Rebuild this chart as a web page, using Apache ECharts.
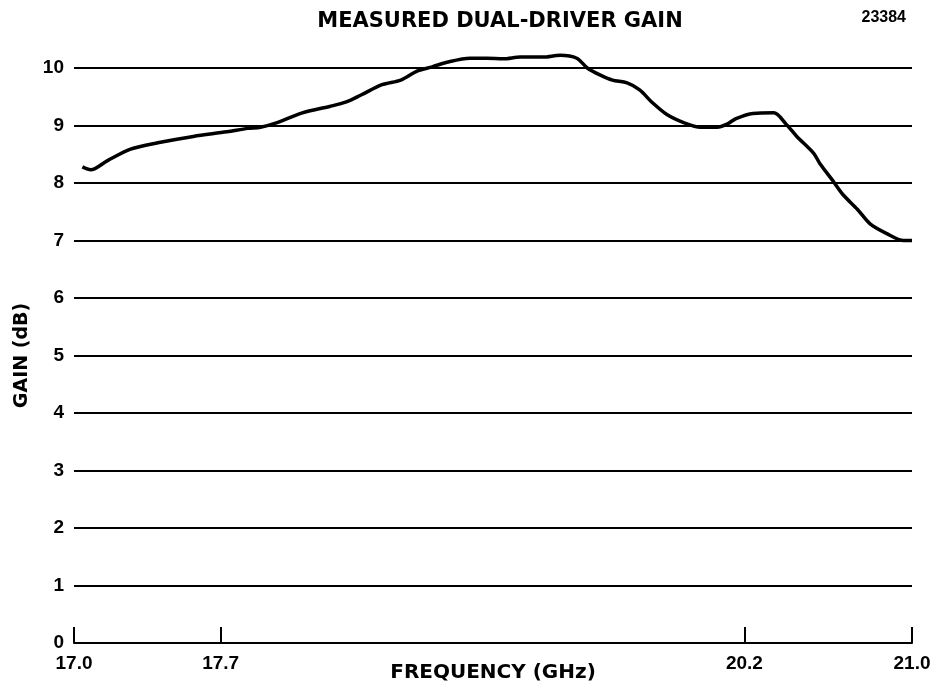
<!DOCTYPE html>
<html>
<head>
<meta charset="utf-8">
<script src="https://cdn.jsdelivr.net/npm/echarts@6/dist/echarts.min.js"></script>
<style>
html,body{margin:0;padding:0;background:#fff;}
#chart{width:930px;height:685px;}
</style>
</head>
<body>
<div id="chart"></div>
<script>
// Data (frequency in GHz, gain in dB)
const freqGHz = [17.04, 17.08, 17.16, 17.27, 17.40, 17.57, 17.73, 17.83, 17.89, 17.97,
  18.09, 18.22, 18.30, 18.37, 18.47, 18.56, 18.64, 18.71, 18.78, 18.89,
  18.97, 19.05, 19.13, 19.24, 19.32, 19.40, 19.45, 19.51, 19.57, 19.64,
  19.70, 19.76, 19.83, 19.91, 19.99, 20.07, 20.12, 20.16, 20.24, 20.34,
  20.40, 20.45, 20.53, 20.56, 20.62, 20.67, 20.74, 20.80, 20.88, 20.96, 21.0];
const gainDB = [8.28, 8.23, 8.39, 8.59, 8.70, 8.81, 8.89, 8.95, 8.97, 9.05,
  9.22, 9.33, 9.41, 9.53, 9.71, 9.79, 9.95, 10.02, 10.10, 10.17,
  10.17, 10.16, 10.19, 10.19, 10.22, 10.17, 10.00, 9.88, 9.79, 9.74,
  9.62, 9.40, 9.19, 9.05, 8.97, 8.97, 9.03, 9.12, 9.21, 9.22,
  9.02, 8.81, 8.52, 8.34, 8.05, 7.80, 7.54, 7.29, 7.12, 7.00, 7.00];
const xTicks = [17.0, 17.7, 20.2, 21.0];
const titleText = 'MEASURED DUAL-DRIVER GAIN';
const figNumber = '23384';
const xName = 'FREQUENCY (GHz)';
const yName = 'GAIN (dB)';

const seriesData = freqGHz.map((f, i) => [f, gainDB[i]]);

const chart = echarts.init(document.getElementById('chart'), null, {renderer: 'canvas'});
const numFont = {fontFamily: '"Liberation Sans", Arial, sans-serif', fontWeight: 'bold', fontSize: 19, color: '#000'};
const nameFont = {fontFamily: '"DejaVu Sans", sans-serif', fontWeight: 'bold', color: '#000'};

chart.setOption({
  backgroundColor: '#fff',
  animation: false,
  grid: {left: 74, right: 18, top: 68, bottom: 42, containLabel: false, outerBoundsMode: 'none'},
  graphic: [
    {type: 'text', x: 500, y: 11, style: {text: titleText, fontFamily: '"DejaVu Sans", sans-serif', fontWeight: 'bold', fontSize: 21, fill: '#000', align: 'center', verticalAlign: 'top'}},
    {type: 'text', x: 906, y: 10, style: {text: figNumber, fontFamily: '"Liberation Sans", Arial, sans-serif', fontWeight: 'bold', fontSize: 16, fill: '#000', align: 'right', verticalAlign: 'top'}}
  ],
  xAxis: {
    type: 'value', min: 17, max: 21,
    name: xName, nameLocation: 'middle', nameGap: 20, nameMoveOverlap: false,
    nameTextStyle: Object.assign({fontSize: 20, verticalAlign: 'top'}, nameFont),
    axisLine: {show: true, lineStyle: {color: '#000', width: 2}},
    axisTick: {show: true, inside: true, length: 16, customValues: xTicks, lineStyle: {color: '#000', width: 2}},
    axisLabel: Object.assign({show: true, customValues: xTicks, margin: 11, formatter: v => v.toFixed(1)}, numFont),
    splitLine: {show: false}
  },
  yAxis: {
    type: 'value', min: 0, max: 10, interval: 1,
    name: yName, nameLocation: 'middle', nameGap: 42, nameRotate: 90, nameMoveOverlap: false,
    nameTextStyle: Object.assign({fontSize: 19}, nameFont),
    axisLine: {show: false},
    axisTick: {show: false},
    axisLabel: Object.assign({margin: 10}, numFont),
    splitLine: {show: true, lineStyle: {color: '#000', width: 2}}
  },
  series: [{
    type: 'line', data: seriesData, showSymbol: false, smooth: 0.3, clip: false,
    lineStyle: {color: '#000', width: 3.5}
  }]
});
</script>
</body>
</html>
